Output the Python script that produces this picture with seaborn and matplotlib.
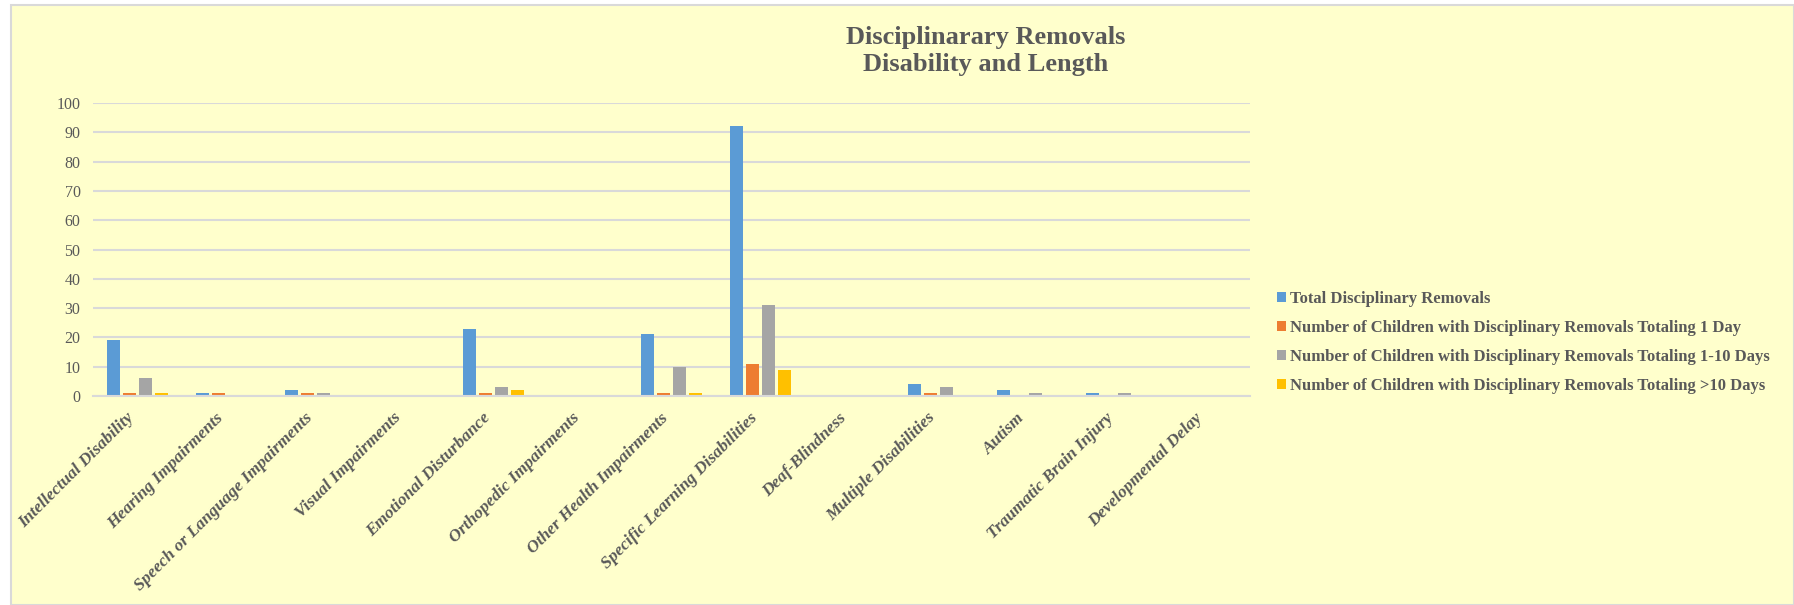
import matplotlib
matplotlib.use("Agg")
import matplotlib.pyplot as plt
import matplotlib.patches as mpatches
import seaborn as sns
import pandas as pd

categories = [
    "Intellectual Disability", "Hearing Impairments", "Speech or Language Impairments",
    "Visual Impairments", "Emotional Disturbance", "Orthopedic Impairments",
    "Other Health Impairments", "Specific Learning Disabilities", "Deaf-Blindness",
    "Multiple Disabilities", "Autism", "Traumatic Brain Injury", "Developmental Delay",
]
series_names = [
    "Total Disciplinary Removals",
    "Number of Children with Disciplinary Removals Totaling 1 Day",
    "Number of Children with Disciplinary Removals Totaling 1-10 Days",
    "Number of Children with Disciplinary Removals Totaling >10 Days",
]
total_removals = [19, 1, 2, 0, 23, 0, 21, 92, 0, 4, 2, 1, 0]
one_day = [1, 1, 1, 0, 1, 0, 1, 11, 0, 1, 0, 0, 0]
one_to_ten = [6, 0, 1, 0, 3, 0, 10, 31, 0, 3, 1, 1, 0]
over_ten = [1, 0, 0, 0, 2, 0, 1, 9, 0, 0, 0, 0, 0]
y_ticks = [0, 10, 20, 30, 40, 50, 60, 70, 80, 90, 100]
colors = ["#5B9BD5", "#ED7D31", "#A5A5A5", "#FFC000"]

rows = []
for name, vals in zip(series_names, [total_removals, one_day, one_to_ten, over_ten]):
    for c, v in zip(categories, vals):
        rows.append({"Category": c, "Series": name, "Value": v})
df = pd.DataFrame(rows)

plt.rcParams['font.family'] = ['Liberation Serif', 'DejaVu Serif']
TXT = "#595959"
W, H = 1794, 605
fig = plt.figure(figsize=(W / 100, H / 100), dpi=100)
fig.patch.set_facecolor("white")
bg = mpatches.Rectangle((11 / W, 0), 1 - 11 / W, 1 - 5 / H, transform=fig.transFigure,
                        facecolor="#FFFFCC", edgecolor="#D9D9D9", linewidth=1.5, zorder=-10)
fig.patches.append(bg)

left, right, top, bottom = 93, 1250, 103, 396
ax = fig.add_axes([left / W, 1 - bottom / H, (right - left) / W, (bottom - top) / H])
ax.set_facecolor("none")

sns.barplot(data=df, x="Category", y="Value", hue="Series", order=categories,
            hue_order=series_names, palette=colors, saturation=1, width=0.72, gap=0.2,
            linewidth=0, ax=ax, legend=False)

ax.set_ylim(0, 100)
ax.set_xlim(-0.5, len(categories) - 0.5)
ax.set_yticks(y_ticks)
ax.set_yticklabels([str(t) for t in y_ticks], fontsize=11.5, color=TXT)
ax.yaxis.grid(True, color="#D9D9D9", linewidth=1.5)
ax.set_axisbelow(True)
for s in ["top", "right", "left"]:
    ax.spines[s].set_visible(False)
ax.spines["bottom"].set_color("#D9D9D9")
ax.spines["bottom"].set_linewidth(1.5)
ax.tick_params(axis="y", length=0, pad=9)
ax.tick_params(axis="x", length=0, pad=10)
ax.set_xticks(range(len(categories)))
ax.set_xticklabels(categories, rotation=45, ha="right", fontsize=12.5, color=TXT,
                   fontweight="bold", fontstyle="italic")
ax.set_xlabel("")
ax.set_ylabel("")

fig.text(986 / W, 1 - 26 / H, "Disciplinarary Removals\nDisability and Length",
         ha="center", va="top", fontsize=19, fontweight="bold", color=TXT, linespacing=1.25)

handles = [mpatches.Patch(facecolor=c, edgecolor="none") for c in colors]
leg = fig.legend(handles, series_names, loc="upper left",
                 bbox_to_anchor=(1277 / W, 1 - 291 / H), frameon=False,
                 prop={"family": "Liberation Serif", "weight": "bold", "size": 12},
                 handlelength=0.55, handleheight=0.55, handletextpad=0.25,
                 labelspacing=0.78, borderaxespad=0, borderpad=0)
for t in leg.get_texts():
    t.set_color(TXT)

fig.savefig("out.png", dpi=100, facecolor=fig.get_facecolor())
